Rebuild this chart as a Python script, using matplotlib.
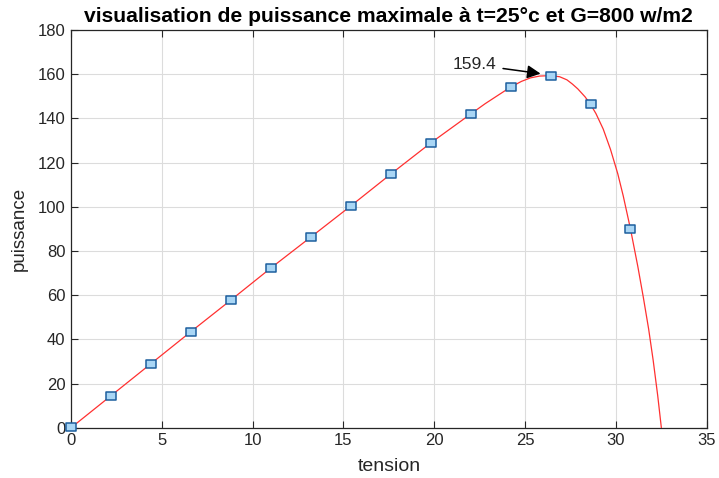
import matplotlib
matplotlib.use("Agg")
import matplotlib.pyplot as plt
from matplotlib.path import Path

# P-V characteristic of the panel (tension in V, puissance in W)
curve_v = [0, 2.2, 4.4, 6.6, 8.8, 11.0, 13.2, 15.4, 17.6, 19.8, 22.0, 22.8, 23.6,
           24.2, 24.8, 25.3, 25.8, 26.4, 26.9, 27.3, 27.6, 27.9, 28.3, 28.6,
           28.9, 29.3, 29.7, 30.1, 30.4, 30.8, 31.2, 31.5, 31.8, 32.05, 32.3, 32.5]
curve_p = [0, 14.5, 29.0, 43.5, 57.8, 72.3, 86.3, 100.4, 114.8, 128.9, 142.0, 146.7,
           151.0, 154.2, 156.8, 158.4, 159.2, 159.4, 158.9, 157.5, 155.6, 153.4,
           149.8, 146.4, 142.2, 135.2, 126.0, 115.0, 105.0, 90.0, 73.2, 59.4,
           44.7, 30.5, 14.5, 0]

# sampled points shown with markers
mark_v = [0, 2.2, 4.4, 6.6, 8.8, 11.0, 13.2, 15.4, 17.6, 19.8, 22.0, 24.2, 26.4,
          28.6, 30.8]
mark_p = [0.3, 14.5, 29.0, 43.5, 57.8, 72.3, 86.3, 100.4, 114.8, 128.9, 142.0,
          154.2, 159.4, 146.4, 90.0]

p_max_v = 26.4
p_max = 159.4

plt.rcParams['font.family'] = ['Liberation Sans', 'DejaVu Sans']

# slightly flattened square marker
box = Path([(-1, -0.8), (1, -0.8), (1, 0.8), (-1, 0.8), (-1, -0.8)],
           [Path.MOVETO, Path.LINETO, Path.LINETO, Path.LINETO, Path.CLOSEPOLY])

fig = plt.figure(figsize=(7.19, 4.78), dpi=100)
ax = fig.add_axes([0.0987, 0.105, 0.8843, 0.832])

ax.plot(curve_v, curve_p, color='#ff3030', linewidth=0.9, zorder=3)
ax.plot(mark_v, mark_p, linestyle='none', marker=box, markersize=7,
        markerfacecolor='#a9d6f5', markeredgecolor='#1d5f9e',
        markeredgewidth=1.1, zorder=4, clip_on=False)

ax.annotate(f"{p_max:.1f}", xy=(p_max_v - 0.55, p_max + 0.9),
            xytext=(p_max_v - 4.2, p_max + 5.0),
            fontsize=12.5, color='#262626', ha='center', va='center',
            arrowprops=dict(arrowstyle='-|>', color='black', lw=1.1,
                            mutation_scale=20, shrinkA=3, shrinkB=0))

ax.set_xlim(0, 35)
ax.set_ylim(0, 180)
ax.set_xticks(range(0, 36, 5))
ax.set_yticks(range(0, 181, 20))
ax.grid(True, color='#dcdcdc', linewidth=0.8)
ax.set_axisbelow(True)

ax.tick_params(direction='in', top=True, right=True, length=5, width=0.8,
               colors='#262626', labelsize=12, labelcolor='#262626', pad=4)
for s in ax.spines.values():
    s.set_color('#262626')
    s.set_linewidth(0.9)

ax.set_xlabel('tension', fontsize=14, color='#262626', labelpad=7)
ax.set_ylabel('puissance', fontsize=13.5, color='#262626', labelpad=7)
ax.set_title('visualisation de puissance maximale à t=25°c et G=800 w/m2',
             fontsize=15.2, fontweight='bold', color='black', pad=6)

fig.savefig('out.png', dpi=100)
